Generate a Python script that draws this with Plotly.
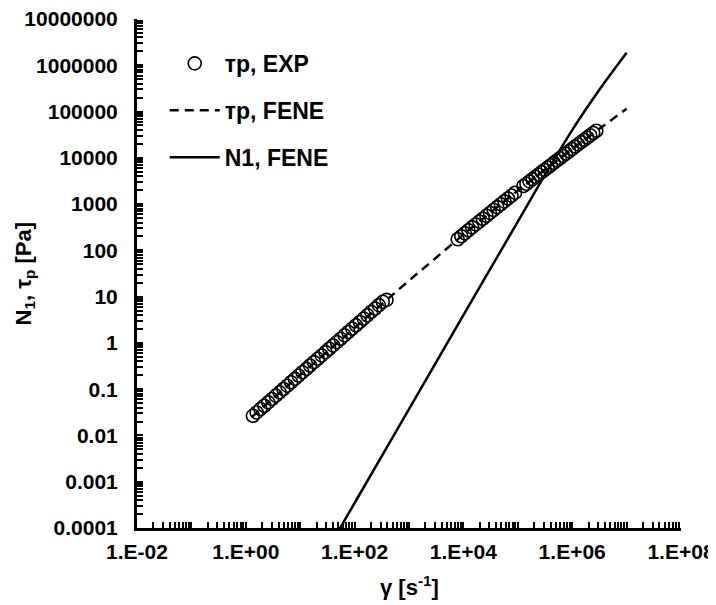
import plotly.graph_objects as go

exp_rate_low = [1.35, 1.58, 1.86, 2.19, 2.58, 3.03, 3.56, 4.18, 4.92, 5.78, 6.79, 7.98,
                9.38, 11.0, 13.0, 15.2, 17.9, 21.0, 24.8, 29.1, 34.2, 40.2, 47.2, 55.6,
                65.3, 76.7, 90.2, 106, 125, 147, 172, 202, 238, 280, 329, 386]
exp_tau_low = [0.0266, 0.0314, 0.0372, 0.0439, 0.0519, 0.0612, 0.0724, 0.0855, 0.101, 0.119,
               0.141, 0.167, 0.197, 0.233, 0.275, 0.325, 0.384, 0.453, 0.536, 0.632,
               0.748, 0.883, 1.04, 1.23, 1.46, 1.72, 2.04, 2.40, 2.84, 3.36, 3.96, 4.69,
               5.53, 6.54, 7.73, 8.51]

exp_rate_high = [7852, 9141, 10641, 12388, 14421, 16788, 19543, 22751, 26485, 30832, 35892,
                 41783, 48641, 56624, 65917, 76736, 89331,
                 126765, 144212, 164059, 186638, 211836, 240991, 274157, 311889, 354813,
                 403645, 458142, 521195, 592925, 674528, 767361, 872971, 990832, 1127197,
                 1282331, 1458814, 1659587, 1887991, 2142891, 2437810, 2773301]
exp_tau_high = [174, 202, 234, 272, 314, 363, 419, 483, 558, 644, 745, 859, 991, 1146, 1321,
                1528, 1762,
                2455, 2754, 3090, 3467, 3890, 4365, 4898, 5495, 6166, 6918, 7780, 8730, 9795,
                10990, 12331, 13836, 15524, 17418, 19543, 21878, 24491, 27416, 30690, 34435,
                38459]

# FENE model curves
fene_rate = [1.29, 10, 100, 1000, 1e4, 1e5, 1e6, 1e7]
fene_tau = [0.0251, 0.202, 2.18, 22.2, 220, 1963, 15631, 114815]

n1_rate = [10, 100, 1000, 1e4, 1e5, 3.16e5, 1e6, 3.16e6, 1e7]
n1_vals = [3.24e-6, 3.47e-4, 0.0372, 3.98, 417, 4266, 39811, 295121, 1.86e6]

x_labels = {-2: "1.E-02", 0: "1.E+00", 2: "1.E+02", 4: "1.E+04", 6: "1.E+06", 8: "1.E+08"}
y_labels = {-4: "0.0001", -3: "0.001", -2: "0.01", -1: "0.1", 0: "1", 1: "10", 2: "100",
            3: "1000", 4: "10000", 5: "100000", 6: "1000000", 7: "10000000"}

font = "Arial, Liberation Sans, sans-serif"

fig = go.Figure()

fig.add_trace(go.Scatter(x=exp_rate_low + [None] + exp_rate_high,
                         y=exp_tau_low + [None] + exp_tau_high,
                         mode="markers", name="тр, EXP", legendgroup="a",
                         marker=dict(symbol="circle-open", size=13, color="black",
                                     line=dict(width=1.6))))
fig.add_trace(go.Scatter(x=fene_rate, y=fene_tau, mode="lines", name="тр, FENE",
                         legendgroup="b",
                         line=dict(color="black", width=2.5, dash="9px,6px")))
fig.add_trace(go.Scatter(x=n1_rate, y=n1_vals, mode="lines", name="N1, FENE",
                         legendgroup="c",
                         line=dict(color="black", width=2.5, shape="spline")))

# ticks at 1..9 of every decade, labels on chosen decades only
def tick_set(lo, hi, labels):
    vals, text = [], []
    for d in range(lo, hi + 1):
        for m in range(1, 10):
            if d == hi and m > 1:
                break
            vals.append(m * 10 ** d)
            text.append(labels.get(d, "") if m == 1 else "")
    return vals, text

xv, xt = tick_set(-2, 8, x_labels)
yv, yt = tick_set(-4, 7, y_labels)

fig.update_xaxes(type="log", range=[-2, 8], showgrid=False, zeroline=False,
                 showline=True, linecolor="black", linewidth=2.5, automargin=False,
                 ticks="inside", ticklen=6, tickwidth=2, tickcolor="black",
                 tickvals=xv, ticktext=xt, ticklabelstandoff=3, ticklabeloverflow="allow",
                 tickfont=dict(family=font, size=21, color="black", weight="bold"))
fig.update_yaxes(type="log", range=[-4, 7], showgrid=False, zeroline=False,
                 showline=True, linecolor="black", linewidth=3, automargin=False,
                 ticks="inside", ticklen=6, tickwidth=2, tickcolor="black",
                 tickvals=yv, ticktext=yt, ticklabelstandoff=12, ticklabeloverflow="allow",
                 tickfont=dict(family=font, size=21, color="black", weight="bold"))

# axis titles as annotations so they sit where the reference has them
title_font = dict(family=font, size=22, color="black", weight="bold")
fig.add_annotation(text="γ [s<sup>-1</sup>]", xref="paper", yref="paper", x=0.5, y=0,
                   xanchor="center", yanchor="middle", yshift=-58, showarrow=False,
                   font=title_font)
fig.add_annotation(text="N<sub>1</sub>, τ<sub>p</sub> [Pa]", xref="paper", yref="paper",
                   x=0, y=0.5, xanchor="center", yanchor="middle", xshift=-113,
                   textangle=-90, showarrow=False, font=title_font)

# page body adds 8px, so the figure is a bit smaller than the window
fig.update_layout(width=708, height=597, plot_bgcolor="white", paper_bgcolor="white",
                  margin=dict(l=129, r=35, t=11, b=77),
                  legend=dict(x=0.051, y=0.955, xanchor="left", yanchor="top",
                              itemwidth=50,
                              bgcolor="rgba(0,0,0,0)", tracegroupgap=14,
                              font=dict(family=font, size=23, color="black", weight="bold")))

fig.write_html("out.html")
